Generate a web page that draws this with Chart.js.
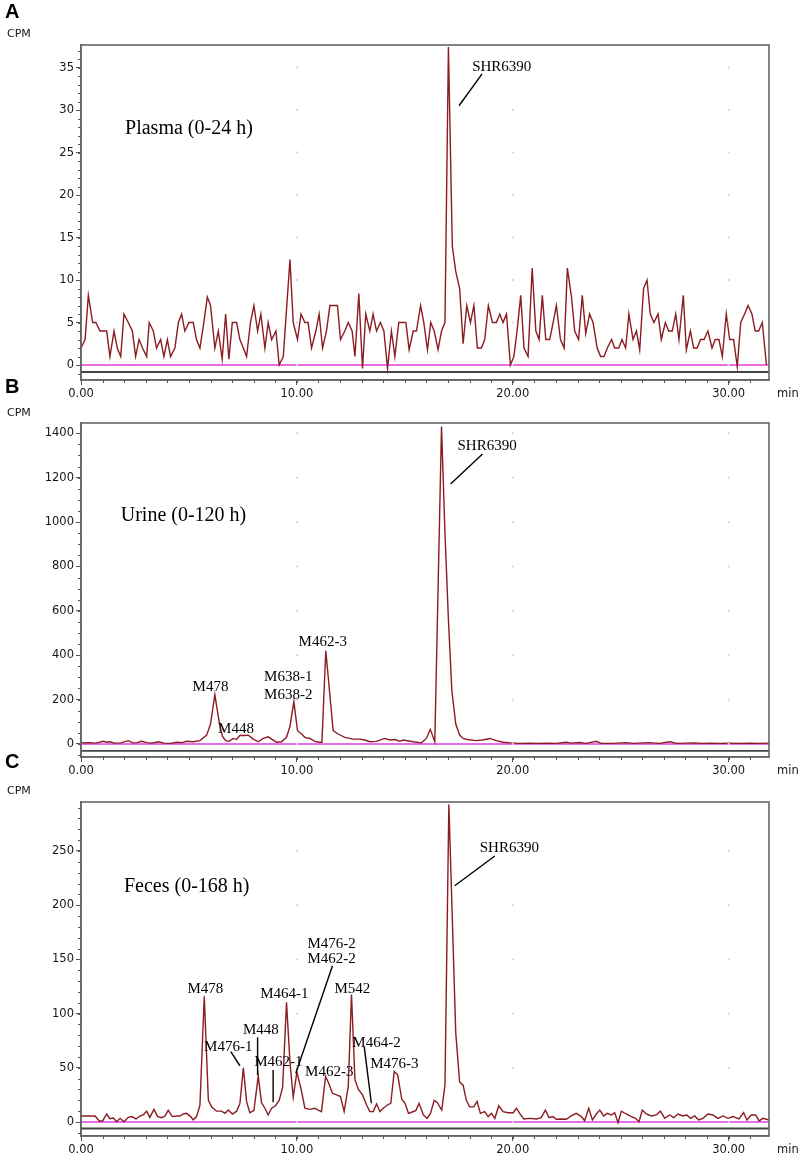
<!DOCTYPE html>
<html>
<head>
<meta charset="utf-8">
<script src="https://cdn.jsdelivr.net/npm/chart.js@4.4.1/dist/chart.umd.min.js"></script>
<style>
  html, body { margin: 0; padding: 0; background: #ffffff; }
  body { width: 803px; height: 1159px; overflow: hidden; position: relative; }
  canvas { position: absolute; left: 0; }
</style>
</head>
<body>
<canvas id="cA"></canvas>
<canvas id="cB"></canvas>
<canvas id="cC"></canvas>
<script>
// ---------------- DATA ----------------
const xTickLabels = [0, 10, 20, 30];
const runEndMin = 31.87;

// Panel A: Plasma (0-24 h)
const plasmaMin = [0.00,0.19,0.34,0.54,0.69,0.88,1.03,1.19,1.34,1.53,1.68,1.84,1.99,2.19,2.38,2.53,2.69,2.85,3.04,3.16,3.35,3.50,3.69,3.84,4.00,4.15,4.35,4.51,4.66,4.81,5.00,5.20,5.35,5.51,5.69,5.85,6.00,6.20,6.36,6.54,6.70,6.85,7.01,7.21,7.36,7.52,7.67,7.85,8.01,8.18,8.33,8.52,8.67,8.83,9.03,9.18,9.37,9.68,9.83,10.03,10.19,10.37,10.52,10.68,10.88,11.03,11.19,11.37,11.53,11.68,11.88,12.02,12.22,12.38,12.56,12.69,12.87,13.04,13.19,13.38,13.53,13.69,13.87,14.03,14.20,14.38,14.54,14.72,14.89,15.05,15.20,15.39,15.54,15.73,15.88,16.05,16.20,16.36,16.54,16.70,16.86,17.02,17.20,17.36,17.54,17.70,17.87,18.04,18.20,18.36,18.55,18.70,18.87,19.06,19.24,19.40,19.55,19.71,19.89,20.05,20.20,20.37,20.52,20.71,20.90,21.07,21.22,21.37,21.53,21.71,21.87,22.02,22.21,22.38,22.53,22.72,22.87,23.05,23.22,23.38,23.56,23.72,23.91,24.07,24.23,24.38,24.58,24.72,24.91,25.06,25.23,25.38,25.57,25.73,25.88,26.06,26.22,26.37,26.54,26.73,26.88,27.07,27.22,27.39,27.55,27.70,27.90,28.04,28.23,28.38,28.54,28.70,28.86,29.04,29.23,29.38,29.55,29.71,29.89,30.05,30.23,30.40,30.56,30.74,30.90,31.08,31.23,31.39,31.56,31.75];
const plasmaCPM = [2,3,8.2,5,5,4,4,4,1,4,2,1,6,5,4,1,3,2,1,5,4,2,3,1,3,1,2,5,6,4,5,5,3,2,5,8,7,2,4,0.7,6,0.7,5,5,3,2,1,5,7,4,6,2,5,3,4,0,1,12.4,5,3,6,5,5,2,4,6,2,4,7,7,7,3,4,5,4,1,8.4,-0.4,6,4,6,4,5,4,-0.4,4,1,5,5,5,1.8,4,4,7,5,1.8,5,4,1.8,4,5,37.4,14,11,9,2.5,7,5,7,2,2,3,7,5,5,6,5,6,0,1,4,8.2,2,1,11.4,4,3,8.2,3,3,5,7,3,2,11.4,8,4,3,8.2,3.7,6,5,2,1,1,2,3,2,2,3,2,6,3,4,1.8,9,10,6,5,6,3,5,4,4,6,3,8.2,1.8,4,2,2,3,3,4,2,3,3,1,6,3,3,-0.2,5,6,7,6,4,4,5,0];
const plasmaYTicks = [0, 5, 10, 15, 20, 25, 30, 35];

// Panel B: Urine (0-120 h)
const urineMin = [0.00,0.40,0.70,1.03,1.20,1.34,1.55,1.85,2.19,2.40,2.60,2.81,3.05,3.30,3.58,3.85,4.15,4.43,4.70,4.89,5.20,5.51,5.82,6.00,6.20,6.40,6.55,6.70,6.85,7.05,7.20,7.36,7.59,7.75,7.98,8.21,8.44,8.67,8.83,9.06,9.29,9.52,9.68,9.86,10.03,10.22,10.37,10.60,10.83,11.03,11.16,11.34,11.68,11.91,12.22,12.60,12.92,13.15,13.38,13.69,14.07,14.31,14.54,14.77,14.92,15.39,15.77,16.00,16.18,16.39,16.70,16.86,17.02,17.18,17.36,17.54,17.70,17.90,18.30,18.60,18.94,19.25,19.55,19.90,20.30,20.80,21.20,21.60,22.00,22.48,22.70,23.10,23.40,23.87,24.10,24.60,25.26,25.60,26.27,26.80,27.27,27.60,28.00,28.40,28.80,29.20,29.60,30.00,30.50,31.00,31.40,31.87];
const urineCPM = [5,6,4,12,8,10,4,5,15,5,6,12,6,4,10,4,3,8,6,12,10,15,40,90,222,100,35,15,12,25,20,38,38,40,22,10,25,32,22,8,10,30,80,190,60,45,30,25,12,8,8,420,60,45,30,22,22,18,10,12,25,18,20,12,18,10,5,25,66,10,1430,950,560,240,90,40,25,20,15,18,25,15,8,5,3,4,3,4,3,8,4,7,3,12,3,3,6,3,6,3,10,3,4,5,3,4,3,4,3,4,3,4];
const urineYTicks = [0, 200, 400, 600, 800, 1000, 1200, 1400];

// Panel C: Feces (0-168 h)
const fecesMin = [0.00,0.65,0.85,1.00,1.19,1.34,1.50,1.65,1.81,1.99,2.19,2.35,2.55,2.73,2.89,3.04,3.19,3.38,3.55,3.73,3.89,4.04,4.23,4.43,4.58,4.74,4.89,5.08,5.20,5.35,5.51,5.71,5.90,6.05,6.28,6.51,6.67,6.82,7.02,7.21,7.36,7.52,7.67,7.82,8.01,8.21,8.36,8.52,8.67,8.83,9.01,9.18,9.34,9.52,9.68,9.83,10.00,10.20,10.37,10.60,10.83,10.99,11.14,11.33,11.45,11.65,11.84,12.02,12.19,12.38,12.53,12.69,12.85,13.04,13.23,13.38,13.54,13.69,13.85,14.00,14.19,14.35,14.51,14.67,14.86,15.01,15.17,15.31,15.51,15.66,15.86,16.03,16.19,16.36,16.50,16.71,16.86,17.04,17.36,17.54,17.70,17.85,18.00,18.19,18.35,18.50,18.70,18.86,19.01,19.17,19.35,19.55,19.78,20.02,20.17,20.32,20.51,20.79,21.09,21.32,21.51,21.68,21.86,22.02,22.25,22.48,22.71,22.94,23.18,23.33,23.52,23.69,23.87,24.03,24.21,24.37,24.57,24.72,24.88,25.03,25.26,25.49,25.69,25.85,26.00,26.19,26.42,26.65,26.84,27.04,27.27,27.46,27.65,27.88,28.07,28.23,28.43,28.61,28.81,29.04,29.27,29.51,29.74,29.97,30.20,30.48,30.69,30.85,31.05,31.25,31.41,31.59,31.87];
const fecesCPM = [5.5,5.5,1,1,7.4,3,3.7,0.3,3.4,0.3,4.3,5,2.8,5.5,6.8,10,4.3,11.7,5,4,5.5,10.8,5,5.5,5.5,7.4,8,5,2,5,15.4,116,20,14,10,10,8,11,7.4,10,17,50,19,8.6,10.5,42.6,18,12.7,6.5,12.7,15,20,32,110.5,55,23,46,30,12.7,11.7,12.7,11,9.6,42,37,26.5,25,23.5,9.6,32.7,117.6,39,30,25,15.7,9.6,9.6,16.7,9.6,12.7,15.7,17.3,46.6,43.5,21,17.3,8,9,10.5,17.3,6.5,3.4,8,20,18,11,34,293,82,37,34,20,14,14,19,8,9.6,5,8,3.4,15,9.6,8.6,8.6,12.7,8,2.8,3.4,2.8,4,11,4,5,2.5,2.8,2.5,5.6,8,5,1.2,12.7,1.9,7.4,11,5.6,8,6.5,8.6,-0.6,10,7.4,5,3.4,0.3,11,7.4,5.6,6.5,10,3.4,6.5,4,7.4,5.6,6.5,3.4,5.6,1.9,3.4,7.4,6.5,3.4,5.6,3.4,5,2.8,8.6,1.9,6.5,6.5,1,3.4,1.9];
const fecesYTicks = [0, 50, 100, 150, 200, 250];

// Horizontal reference traces (CPM)
const zeroLevel = 0;
const plasmaLowerTrace = -0.82;
const urineLowerTrace = -31;
const fecesLowerTrace = -6;

// Peak annotations (text, retention time, CPM)
const plasmaNotes = [
  { text: 'Plasma (0-24 h)', x: 2.04, y: 27.8, big: true, align: 'left' },
  { text: 'SHR6390', x: 18.12, y: 35.1, align: 'left' }
];
const plasmaLeaders = [[18.58, 34.25, 17.51, 30.5]];

const urineNotes = [
  { text: 'Urine (0-120 h)', x: 1.84, y: 1028, big: true, align: 'left' },
  { text: 'SHR6390', x: 17.44, y: 1342, align: 'left' },
  { text: 'M478', x: 6.0, y: 257 },
  { text: 'M448', x: 7.18, y: 68 },
  { text: 'M638-1', x: 9.6, y: 302 },
  { text: 'M638-2', x: 9.6, y: 222 },
  { text: 'M462-3', x: 11.2, y: 460 }
];
const urineLeaders = [[18.60, 1306, 17.12, 1171]];

const fecesNotes = [
  { text: 'Feces (0-168 h)', x: 1.99, y: 216.8, big: true, align: 'left' },
  { text: 'SHR6390', x: 18.47, y: 252.8, align: 'left' },
  { text: 'M478', x: 5.76, y: 122.9 },
  { text: 'M476-1', x: 6.82, y: 68.7 },
  { text: 'M448', x: 8.33, y: 84.4 },
  { text: 'M462-1', x: 9.14, y: 54.9 },
  { text: 'M464-1', x: 9.42, y: 118.1 },
  { text: 'M476-2', x: 11.61, y: 164.4 },
  { text: 'M462-2', x: 11.61, y: 150.4 },
  { text: 'M542', x: 12.57, y: 122.9 },
  { text: 'M462-3', x: 11.50, y: 45.7 },
  { text: 'M464-2', x: 13.69, y: 72.9 },
  { text: 'M476-3', x: 14.52, y: 53.7 }
];
const fecesLeaders = [
  [19.17, 245.4, 17.31, 218],
  [6.94, 64.9, 7.36, 51.9],
  [8.18, 78.1, 8.18, 43.4],
  [8.90, 48, 8.90, 18.2],
  [11.65, 144.2, 9.95, 44.9],
  [13.12, 69.5, 13.45, 17.3]
];

// ---------------- DRAWING ----------------
const TICK_FONT = { family: 'DejaVu Sans', size: 11.5 };
const TEXT_COLOR = '#161616';

const decorPlugin = {
  id: 'panelDecor',
  afterDraw(chart) {
    const p = chart.options.plugins.panelDecor;
    const { ctx, chartArea: a } = chart;
    const xs = chart.scales.x, ys = chart.scales.y;
    ctx.save();
    // faint grid dots
    ctx.fillStyle = '#d6d6d6';
    xTickLabels.forEach(xv => {
      if (xv <= xs.min) return;
      const px = xs.getPixelForValue(xv);
      p.yTicks.forEach(yv => {
        const py = ys.getPixelForValue(yv);
        ctx.fillRect(px - 1, py - 1, 2, 2);
      });
    });
    // frame
    ctx.strokeStyle = '#666666';
    ctx.lineWidth = 1.6;
    ctx.strokeRect(a.left, a.top, a.right - a.left, a.bottom - a.top);
    // minor ticks
    ctx.strokeStyle = '#555';
    ctx.lineWidth = 1;
    ctx.beginPath();
    const startI = Math.ceil(ys.min / p.yMinor);
    for (let i = startI; i * p.yMinor <= ys.max; i++) {
      const py = Math.round(ys.getPixelForValue(i * p.yMinor)) + 0.5;
      ctx.moveTo(a.left - 3, py); ctx.lineTo(a.left, py);
    }
    for (let i = 0; i <= xs.max; i++) {
      const px = Math.round(xs.getPixelForValue(i)) + 0.5;
      ctx.moveTo(px, a.bottom); ctx.lineTo(px, a.bottom + 3);
    }
    ctx.stroke();
    // axis unit labels
    ctx.fillStyle = TEXT_COLOR;
    ctx.textBaseline = 'middle';
    ctx.textAlign = 'left';
    ctx.font = '11.5px "DejaVu Sans"';
    ctx.fillText('min', a.right + 8, a.bottom + 14);
    ctx.font = '11px "DejaVu Sans"';
    ctx.fillText('CPM', 7, p.cpmY);
    ctx.font = 'bold 20px "Liberation Sans"';
    ctx.fillStyle = '#000';
    ctx.fillText(p.letter, 5, p.letterY);
    // leader lines
    ctx.strokeStyle = '#000';
    ctx.lineWidth = 1.4;
    p.leaders.forEach(l => {
      ctx.beginPath();
      ctx.moveTo(xs.getPixelForValue(l[0]), ys.getPixelForValue(l[1]));
      ctx.lineTo(xs.getPixelForValue(l[2]), ys.getPixelForValue(l[3]));
      ctx.stroke();
    });
    // annotation text
    ctx.fillStyle = '#000';
    p.notes.forEach(n => {
      ctx.font = (n.big ? '20px' : '15px') + ' "Liberation Serif"';
      ctx.textAlign = n.align || 'center';
      ctx.fillText(n.text, xs.getPixelForValue(n.x), ys.getPixelForValue(n.y));
    });
    ctx.restore();
  }
};

function toPoints(xsArr, ysArr) {
  return xsArr.map((t, i) => ({ x: t, y: ysArr[i] }));
}

function makePanel(id, cfg) {
  const canvas = document.getElementById(id);
  canvas.style.top = cfg.top + 'px';
  canvas.width = 803;
  canvas.height = cfg.height;
  canvas.style.width = '803px';
  canvas.style.height = cfg.height + 'px';
  new Chart(canvas, {
    type: 'line',
    data: {
      datasets: [
        { data: toPoints(cfg.times, cfg.values), borderColor: '#8a1c22', borderWidth: 1.4,
          pointRadius: 0, tension: 0, fill: false },
        { data: [{ x: 0, y: zeroLevel }, { x: runEndMin, y: zeroLevel }], borderColor: '#e03ce0',
          borderWidth: 1.4, pointRadius: 0, fill: false },
        { data: [{ x: 0, y: cfg.lower }, { x: runEndMin, y: cfg.lower }], borderColor: '#444444',
          borderWidth: 1.8, pointRadius: 0, fill: false }
      ]
    },
    options: {
      responsive: false,
      animation: false,
      devicePixelRatio: 1,
      layout: { padding: { top: 50, left: 0, right: 34, bottom: 0 } },
      plugins: {
        legend: { display: false },
        tooltip: { enabled: false },
        panelDecor: {
          yTicks: cfg.yTicks, yMinor: cfg.yMinor, notes: cfg.notes, leaders: cfg.leaders,
          letter: cfg.letter, letterY: cfg.letterY, cpmY: cfg.cpmY
        }
      },
      scales: {
        x: {
          type: 'linear', min: 0, max: runEndMin,
          afterBuildTicks: s => { s.ticks = xTickLabels.map(v => ({ value: v })); },
          afterFit: s => { s.height = 22; },
          grid: { drawOnChartArea: false, drawTicks: true, tickLength: 5, color: '#555', lineWidth: 1 },
          border: { display: true, color: '#666666', width: 1.6 },
          ticks: { font: TICK_FONT, color: TEXT_COLOR, padding: 2, maxRotation: 0, autoSkip: false,
                   callback: v => Number(v).toFixed(2) }
        },
        y: {
          type: 'linear', min: cfg.yMin, max: cfg.yMax,
          afterBuildTicks: s => { s.ticks = cfg.yTicks.map(v => ({ value: v })); },
          afterFit: s => { s.width = 81; },
          grid: { drawOnChartArea: false, drawTicks: true, tickLength: 5, color: '#555', lineWidth: 1 },
          border: { display: true, color: '#666666', width: 1.6 },
          ticks: { font: TICK_FONT, color: TEXT_COLOR, padding: 2, autoSkip: false,
                   callback: v => String(v) }
        }
      }
    },
    plugins: [decorPlugin]
  });
}

makePanel('cA', {
  top: -5, height: 407, times: plasmaMin, values: plasmaCPM,
  yMin: -1.76, yMax: 37.65, yTicks: plasmaYTicks, yMinor: 1, lower: plasmaLowerTrace,
  notes: plasmaNotes, leaders: plasmaLeaders, letter: 'A', letterY: 17, cpmY: 39
});
makePanel('cB', {
  top: 373, height: 406, times: urineMin, values: urineCPM,
  yMin: -58.6, yMax: 1446, yTicks: urineYTicks, yMinor: 50, lower: urineLowerTrace,
  notes: urineNotes, leaders: urineLeaders, letter: 'B', letterY: 14.5, cpmY: 40
});
makePanel('cC', {
  top: 752, height: 406, times: fecesMin, values: fecesCPM,
  yMin: -12.9, yMax: 295.2, yTicks: fecesYTicks, yMinor: 10, lower: fecesLowerTrace,
  notes: fecesNotes, leaders: fecesLeaders, letter: 'C', letterY: 10.5, cpmY: 39.5
});
</script>
</body>
</html>
